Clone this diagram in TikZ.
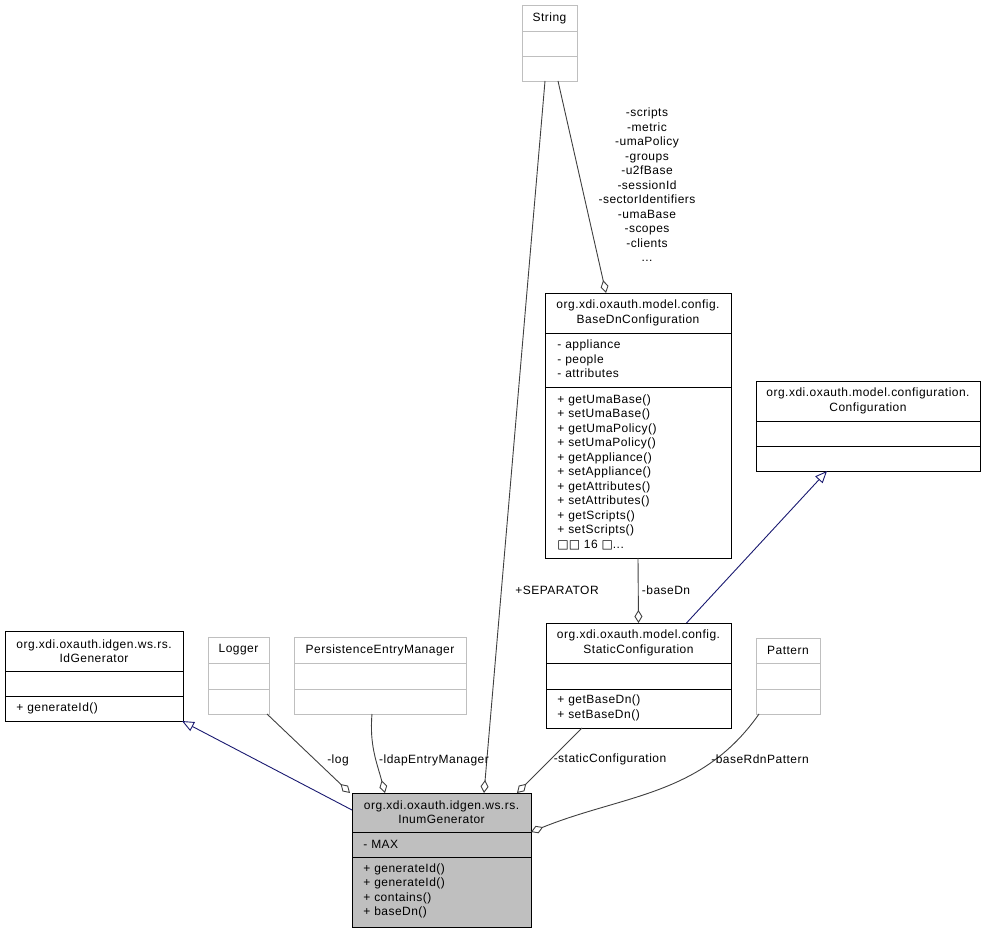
\documentclass[tikz,border=0pt]{standalone}
\usepackage{fontspec}
\setmainfont{Liberation Sans}[LetterSpace=4]
\newfontfamily\boxglyph{DejaVu Sans}
\usetikzlibrary{arrows.meta}
\definecolor{edgegray}{HTML}{404040}
\definecolor{navyblue}{HTML}{191970}
\definecolor{lightgray}{HTML}{BFBFBF}

\begin{document}
\begin{tikzpicture}[x=1pt, y=-1pt, line width=0.9pt,
    font=\fontsize{12}{14.5}\selectfont,
    cls/.style = {draw, anchor=north west, inner sep=0, outer sep=0},
    ext/.style = {cls, draw=lightgray},
    cur/.style = {cls, fill=lightgray},
    txt/.style = {inner sep=0, align=left, anchor=west},
    ttl/.style = {inner sep=0, align=center},
    agg/.style = {draw=edgegray, -{Diamond[open, length=13pt, width=8pt]}},
    inh/.style = {draw=navyblue, -{Triangle[open, length=12pt, width=10pt]}}]
    \useasboundingbox (0,0) rectangle (985,933);

    % String
    \node[ext, minimum width=55pt, minimum height=76pt] (str) at (522,5) {};
    \draw[lightgray] (522,31) -- (577,31) (522,56) -- (577,56);
    \node[ttl] (strttl) at (549.5,18) {String};

    % BaseDnConfiguration
    \node[cls, minimum width=186pt, minimum height=265pt] (bdc) at (545,293) {};
    \draw (545,333) -- (731,333) (545,387) -- (731,387);
    \node[ttl] (bdcttl) at (638,313) {org.xdi.oxauth.model.config.\\BaseDnConfiguration};
    \node[txt] (bdcattr) at (557,359) {- appliance\\- people\\- attributes};
    \node[txt] (bdcmeth) at (557,472) {+ getUmaBase()\\+ setUmaBase()\\+ getUmaPolicy()\\+ setUmaPolicy()\\+ getAppliance()\\+ setAppliance()\\+ getAttributes()\\+ setAttributes()\\+ getScripts()\\+ setScripts()\\{\boxglyph □□} 16 {\boxglyph □}...};

    % Configuration
    \node[cls, minimum width=224pt, minimum height=90pt] (conf) at (756,381) {};
    \draw (756,421) -- (980,421) (756,446) -- (980,446);
    \node[ttl] (confttl) at (868,401) {org.xdi.oxauth.model.configuration.\\Configuration};

    % StaticConfiguration
    \node[cls, minimum width=185pt, minimum height=105pt] (sc) at (546,623) {};
    \draw (546,663) -- (731,663) (546,689) -- (731,689);
    \node[ttl] (scttl) at (638.5,643) {org.xdi.oxauth.model.config.\\StaticConfiguration};
    \node[txt] (scmeth) at (557,708) {+ getBaseDn()\\+ setBaseDn()};

    % Pattern
    \node[ext, minimum width=64pt, minimum height=76pt] (pat) at (756,638) {};
    \draw[lightgray] (756,663) -- (820,663) (756,689) -- (820,689);
    \node[ttl] (patttl) at (788,650) {Pattern};

    % IdGenerator
    \node[cls, minimum width=178pt, minimum height=90pt] (idg) at (5,631) {};
    \draw (5,671) -- (183,671) (5,696) -- (183,696);
    \node[ttl] (idgttl) at (94,651) {org.xdi.oxauth.idgen.ws.rs.\\IdGenerator};
    \node[txt] (idgmeth) at (16,708) {+ generateId()};

    % Logger
    \node[ext, minimum width=61pt, minimum height=77pt] (log) at (208,637) {};
    \draw[lightgray] (208,663) -- (269,663) (208,689) -- (269,689);
    \node[ttl] (logttl) at (238.5,650) {Logger};

    % PersistenceEntryManager
    \node[ext, minimum width=172pt, minimum height=77pt] (pem) at (294,637) {};
    \draw[lightgray] (294,663) -- (466,663) (294,689) -- (466,689);
    \node[ttl] (pemttl) at (380,650) {PersistenceEntryManager};

    % InumGenerator
    \node[cur, minimum width=179pt, minimum height=134pt] (inum) at (352,793) {};
    \draw (352,832) -- (531,832) (352,857) -- (531,857);
    \node[ttl] (inumttl) at (441.5,812) {org.xdi.oxauth.idgen.ws.rs.\\InumGenerator};
    \node[txt] (inumattr) at (363,844) {- MAX};
    \node[txt] (inummeth) at (363,891) {+ generateId()\\+ generateId()\\+ contains()\\+ baseDn()};

    % connectors
    \draw[agg] ([xshift=-4.5pt]str.south) -- ([xshift=132pt]inum.north west);
    \draw[agg] ([xshift=8.5pt]str.south) -- ([xshift=61pt]bdc.north west);
    \draw[agg] (bdc.south) -- (sc.north);
    \draw[inh] ([xshift=48pt]sc.north) -- ([xshift=71pt]conf.south west);
    \draw[agg] ([xshift=36pt]sc.south west) -- ([xshift=165pt]inum.north west);
    \draw[agg] ([xshift=3pt]pat.south west) to[out=-125, in=22] ([yshift=28pt]inum.east);
    \draw[inh] ([yshift=-17pt]inum.north west) -- ([xshift=-1pt]idg.south east);
    \draw[agg] ([xshift=-2pt]log.south east) -- ([xshift=-2pt]inum.north west);
    \draw[agg] ([xshift=-8pt]pem.south) to[out=-95, in=105] ([xshift=33pt]inum.north west);

    % connector labels
    \node[ttl] (lblstr) at (647,185) {-scripts\\-metric\\-umaPolicy\\-groups\\-u2fBase\\-sessionId\\-sectorIdentifiers\\-umaBase\\-scopes\\-clients\\...};
    \node[ttl] (lblsep) at (557,590) {+SEPARATOR};
    \node[ttl] (lblbasedn) at (666,590) {-baseDn};
    \node[ttl] (lbllog) at (338,760) {-log};
    \node[ttl] (lblldap) at (434,760) {-ldapEntryManager};
    \node[ttl] (lblstatic) at (610,759) {-staticConfiguration};
    \node[ttl] (lblpat) at (760,759) {-baseRdnPattern};
\end{tikzpicture}
\end{document}
